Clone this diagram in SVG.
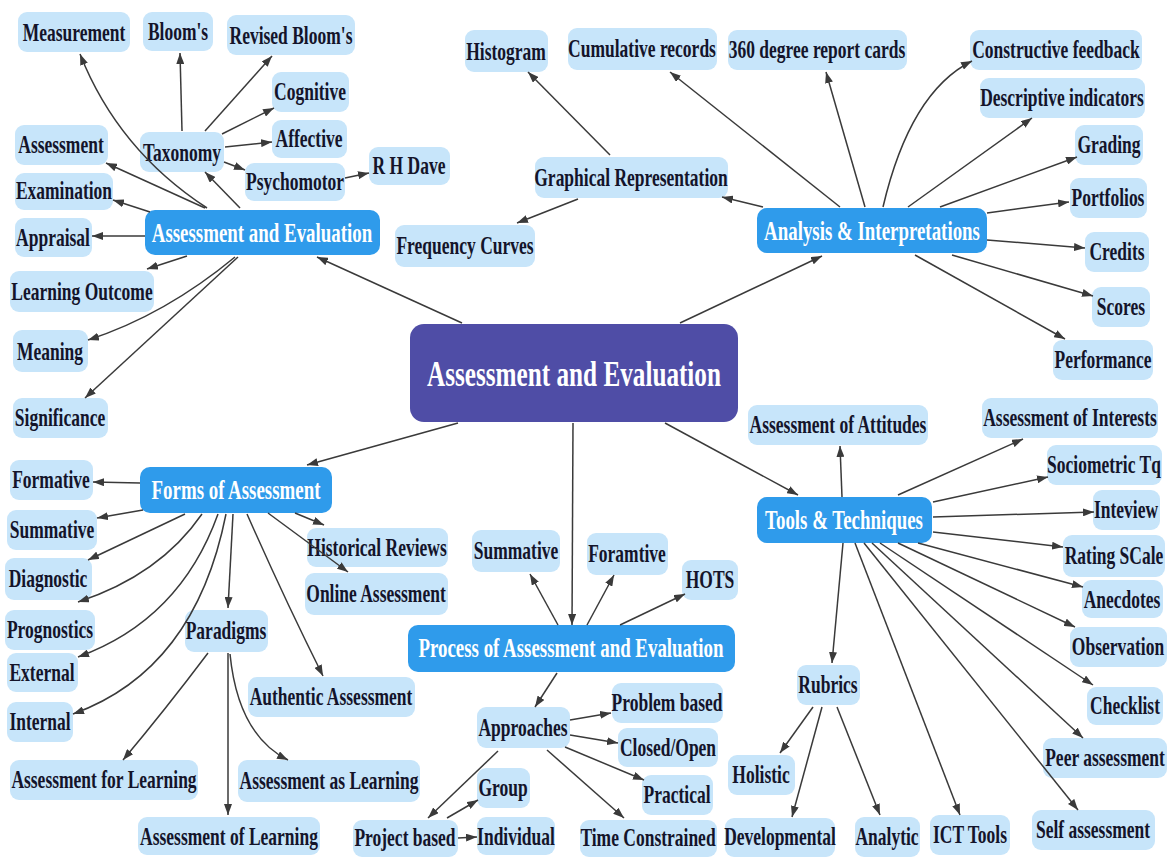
<svg xmlns="http://www.w3.org/2000/svg" width="1170" height="857" viewBox="0 0 1170 857">
<defs>
<marker id="ah" markerWidth="11" markerHeight="8" refX="11" refY="4" orient="auto" markerUnits="userSpaceOnUse"><path d="M0,0 L11,4 L0,8 z" fill="#3a3a3a"/></marker>
<style>
text{font-family:"Liberation Serif","Times New Roman",serif;font-weight:bold;text-anchor:middle}
.leaf rect{fill:#c7e5fa}
.leaf text{font-size:25px;fill:#14142a}
.branch rect{fill:#2f9beb}
.branch text{font-size:27px;fill:#ffffff}
.root rect{fill:#4f4da6}
.root text{font-size:36px;fill:#ffffff}
#connectors path{fill:none;stroke:#3a3a3a;stroke-width:1.5;marker-end:url(#ah)}
</style>
</defs>
<rect width="1170" height="857" fill="#ffffff"/>
<g id="root" class="root"><rect x="410" y="324" width="328" height="98" rx="14"/><text transform="translate(574,386) scale(0.7,1)">Assessment and Evaluation</text></g>
<g id="b-ae" class="branch"><rect x="145" y="210" width="235" height="45" rx="10"/><text transform="translate(262,242) scale(0.7,1)">Assessment and Evaluation</text></g>
<g id="b-analysis" class="branch"><rect x="757" y="208" width="230" height="45" rx="10"/><text transform="translate(872,240) scale(0.7,1)">Analysis &amp; Interpretations</text></g>
<g id="b-forms" class="branch"><rect x="140" y="467" width="192" height="46" rx="10"/><text transform="translate(236,499) scale(0.7,1)">Forms of Assessment</text></g>
<g id="b-tools" class="branch"><rect x="757" y="497" width="175" height="46" rx="10"/><text transform="translate(844,529) scale(0.7,1)">Tools &amp; Techniques</text></g>
<g id="b-process" class="branch"><rect x="408" y="625" width="327" height="47" rx="10"/><text transform="translate(571,657) scale(0.7,1)">Process of Assessment and Evaluation</text></g>
<g id="n-measurement" class="leaf"><rect x="18" y="12" width="112" height="40" rx="9"/><text transform="translate(74,41) scale(0.7,1)">Measurement</text></g>
<g id="n-blooms" class="leaf"><rect x="143" y="12" width="70" height="39" rx="9"/><text transform="translate(178,40) scale(0.7,1)">Bloom's</text></g>
<g id="n-revised" class="leaf"><rect x="227" y="15" width="128" height="40" rx="9"/><text transform="translate(291,44) scale(0.7,1)">Revised Bloom's</text></g>
<g id="n-cognitive" class="leaf"><rect x="272" y="72" width="77" height="40" rx="9"/><text transform="translate(310,100) scale(0.7,1)">Cognitive</text></g>
<g id="n-affective" class="leaf"><rect x="272" y="120" width="75" height="38" rx="9"/><text transform="translate(309,147) scale(0.7,1)">Affective</text></g>
<g id="n-taxonomy" class="leaf"><rect x="140" y="132" width="84" height="40" rx="9"/><text transform="translate(182,161) scale(0.7,1)">Taxonomy</text></g>
<g id="n-psychomotor" class="leaf"><rect x="245" y="163" width="100" height="38" rx="9"/><text transform="translate(295,190) scale(0.7,1)">Psychomotor</text></g>
<g id="n-rhdave" class="leaf"><rect x="369" y="147" width="81" height="38" rx="9"/><text transform="translate(409,174) scale(0.7,1)">R H Dave</text></g>
<g id="n-assessment" class="leaf"><rect x="15" y="125" width="93" height="40" rx="9"/><text transform="translate(61,153) scale(0.7,1)">Assessment</text></g>
<g id="n-examination" class="leaf"><rect x="15" y="173" width="98" height="37" rx="9"/><text transform="translate(64,199) scale(0.7,1)">Examination</text></g>
<g id="n-appraisal" class="leaf"><rect x="15" y="218" width="77" height="39" rx="9"/><text transform="translate(53,246) scale(0.7,1)">Appraisal</text></g>
<g id="n-learning-outcome" class="leaf"><rect x="10" y="271" width="144" height="41" rx="9"/><text transform="translate(82,300) scale(0.7,1)">Learning Outcome</text></g>
<g id="n-meaning" class="leaf"><rect x="13" y="330" width="75" height="42" rx="9"/><text transform="translate(50,360) scale(0.7,1)">Meaning</text></g>
<g id="n-significance" class="leaf"><rect x="13" y="398" width="95" height="40" rx="9"/><text transform="translate(60,426) scale(0.7,1)">Significance</text></g>
<g id="n-histogram" class="leaf"><rect x="465" y="30" width="83" height="42" rx="9"/><text transform="translate(506,60) scale(0.7,1)">Histogram</text></g>
<g id="n-cumulative" class="leaf"><rect x="568" y="28" width="149" height="42" rx="9"/><text transform="translate(642,57) scale(0.7,1)">Cumulative records</text></g>
<g id="n-360" class="leaf"><rect x="728" y="30" width="179" height="40" rx="9"/><text transform="translate(817,58) scale(0.7,1)">360 degree report cards</text></g>
<g id="n-graphical" class="leaf"><rect x="535" y="157" width="193" height="41" rx="9"/><text transform="translate(631,186) scale(0.7,1)">Graphical Representation</text></g>
<g id="n-frequency" class="leaf"><rect x="395" y="225" width="140" height="42" rx="9"/><text transform="translate(465,254) scale(0.7,1)">Frequency Curves</text></g>
<g id="n-constructive" class="leaf"><rect x="970" y="30" width="172" height="40" rx="9"/><text transform="translate(1056,58) scale(0.7,1)">Constructive feedback</text></g>
<g id="n-descriptive" class="leaf"><rect x="980" y="78" width="165" height="40" rx="9"/><text transform="translate(1062,106) scale(0.7,1)">Descriptive indicators</text></g>
<g id="n-grading" class="leaf"><rect x="1075" y="125" width="68" height="40" rx="9"/><text transform="translate(1109,153) scale(0.7,1)">Grading</text></g>
<g id="n-portfolios" class="leaf"><rect x="1070" y="178" width="77" height="40" rx="9"/><text transform="translate(1108,206) scale(0.7,1)">Portfolios</text></g>
<g id="n-credits" class="leaf"><rect x="1085" y="232" width="64" height="40" rx="9"/><text transform="translate(1117,260) scale(0.7,1)">Credits</text></g>
<g id="n-scores" class="leaf"><rect x="1092" y="287" width="58" height="40" rx="9"/><text transform="translate(1121,315) scale(0.7,1)">Scores</text></g>
<g id="n-performance" class="leaf"><rect x="1053" y="340" width="100" height="40" rx="9"/><text transform="translate(1103,368) scale(0.7,1)">Performance</text></g>
<g id="n-attitudes" class="leaf"><rect x="748" y="405" width="180" height="40" rx="9"/><text transform="translate(838,433) scale(0.7,1)">Assessment of Attitudes</text></g>
<g id="n-interests" class="leaf"><rect x="982" y="398" width="176" height="40" rx="9"/><text transform="translate(1070,426) scale(0.7,1)">Assessment of Interests</text></g>
<g id="n-sociometric" class="leaf"><rect x="1047" y="445" width="115" height="40" rx="9"/><text transform="translate(1104,473) scale(0.7,1)">Sociometric Tq</text></g>
<g id="n-inteview" class="leaf"><rect x="1093" y="490" width="67" height="40" rx="9"/><text transform="translate(1126,518) scale(0.7,1)">Inteview</text></g>
<g id="n-rating" class="leaf"><rect x="1063" y="535" width="102" height="42" rx="9"/><text transform="translate(1114,564) scale(0.7,1)">Rating SCale</text></g>
<g id="n-anecdotes" class="leaf"><rect x="1082" y="580" width="81" height="38" rx="9"/><text transform="translate(1122,608) scale(0.7,1)">Anecdotes</text></g>
<g id="n-observation" class="leaf"><rect x="1070" y="627" width="97" height="40" rx="9"/><text transform="translate(1118,655) scale(0.7,1)">Observation</text></g>
<g id="n-checklist" class="leaf"><rect x="1087" y="687" width="76" height="38" rx="9"/><text transform="translate(1125,714) scale(0.7,1)">Checklist</text></g>
<g id="n-peer" class="leaf"><rect x="1043" y="738" width="124" height="40" rx="9"/><text transform="translate(1105,766) scale(0.7,1)">Peer assessment</text></g>
<g id="n-self" class="leaf"><rect x="1032" y="810" width="123" height="40" rx="9"/><text transform="translate(1093,838) scale(0.7,1)">Self assessment</text></g>
<g id="n-rubrics" class="leaf"><rect x="797" y="665" width="63" height="40" rx="9"/><text transform="translate(828,693) scale(0.7,1)">Rubrics</text></g>
<g id="n-holistic" class="leaf"><rect x="728" y="755" width="67" height="40" rx="9"/><text transform="translate(761,783) scale(0.7,1)">Holistic</text></g>
<g id="n-developmental" class="leaf"><rect x="725" y="818" width="110" height="39" rx="9"/><text transform="translate(780,845) scale(0.7,1)">Developmental</text></g>
<g id="n-analytic" class="leaf"><rect x="855" y="817" width="65" height="40" rx="9"/><text transform="translate(887,845) scale(0.7,1)">Analytic</text></g>
<g id="n-ict" class="leaf"><rect x="930" y="815" width="80" height="40" rx="9"/><text transform="translate(970,843) scale(0.7,1)">ICT Tools</text></g>
<g id="n-problem" class="leaf"><rect x="612" y="683" width="111" height="40" rx="9"/><text transform="translate(667,711) scale(0.7,1)">Problem based</text></g>
<g id="n-closed" class="leaf"><rect x="618" y="728" width="100" height="39" rx="9"/><text transform="translate(668,756) scale(0.7,1)">Closed/Open</text></g>
<g id="n-practical" class="leaf"><rect x="642" y="775" width="71" height="40" rx="9"/><text transform="translate(677,803) scale(0.7,1)">Practical</text></g>
<g id="n-approaches" class="leaf"><rect x="477" y="707" width="93" height="41" rx="9"/><text transform="translate(523,736) scale(0.7,1)">Approaches</text></g>
<g id="n-group" class="leaf"><rect x="477" y="768" width="53" height="40" rx="9"/><text transform="translate(503,796) scale(0.7,1)">Group</text></g>
<g id="n-individual" class="leaf"><rect x="477" y="817" width="78" height="38" rx="9"/><text transform="translate(516,845) scale(0.7,1)">Individual</text></g>
<g id="n-project" class="leaf"><rect x="353" y="820" width="105" height="37" rx="9"/><text transform="translate(405,846) scale(0.7,1)">Project based</text></g>
<g id="n-time" class="leaf"><rect x="580" y="820" width="137" height="37" rx="9"/><text transform="translate(648,846) scale(0.7,1)">Time Constrained</text></g>
<g id="n-hots" class="leaf"><rect x="682" y="560" width="56" height="40" rx="9"/><text transform="translate(710,588) scale(0.7,1)">HOTS</text></g>
<g id="n-p-summative" class="leaf"><rect x="472" y="530" width="88" height="42" rx="9"/><text transform="translate(516,559) scale(0.7,1)">Summative</text></g>
<g id="n-p-foramtive" class="leaf"><rect x="587" y="533" width="81" height="42" rx="9"/><text transform="translate(627,562) scale(0.7,1)">Foramtive</text></g>
<g id="n-formative" class="leaf"><rect x="10" y="460" width="83" height="40" rx="9"/><text transform="translate(51,488) scale(0.7,1)">Formative</text></g>
<g id="n-summative" class="leaf"><rect x="7" y="510" width="90" height="40" rx="9"/><text transform="translate(52,538) scale(0.7,1)">Summative</text></g>
<g id="n-diagnostic" class="leaf"><rect x="5" y="558" width="87" height="42" rx="9"/><text transform="translate(48,587) scale(0.7,1)">Diagnostic</text></g>
<g id="n-prognostics" class="leaf"><rect x="5" y="610" width="90" height="40" rx="9"/><text transform="translate(50,638) scale(0.7,1)">Prognostics</text></g>
<g id="n-external" class="leaf"><rect x="7" y="653" width="71" height="39" rx="9"/><text transform="translate(42,681) scale(0.7,1)">External</text></g>
<g id="n-internal" class="leaf"><rect x="7" y="702" width="66" height="40" rx="9"/><text transform="translate(40,730) scale(0.7,1)">Internal</text></g>
<g id="n-for-learning" class="leaf"><rect x="10" y="760" width="188" height="40" rx="9"/><text transform="translate(104,788) scale(0.7,1)">Assessment for Learning</text></g>
<g id="n-paradigms" class="leaf"><rect x="185" y="610" width="83" height="42" rx="9"/><text transform="translate(226,639) scale(0.7,1)">Paradigms</text></g>
<g id="n-as-learning" class="leaf"><rect x="238" y="760" width="182" height="42" rx="9"/><text transform="translate(329,789) scale(0.7,1)">Assessment as Learning</text></g>
<g id="n-of-learning" class="leaf"><rect x="138" y="817" width="182" height="38" rx="9"/><text transform="translate(229,845) scale(0.7,1)">Assessment of Learning</text></g>
<g id="n-authentic" class="leaf"><rect x="248" y="677" width="167" height="40" rx="9"/><text transform="translate(331,705) scale(0.7,1)">Authentic Assessment</text></g>
<g id="n-historical" class="leaf"><rect x="307" y="528" width="141" height="39" rx="9"/><text transform="translate(377,556) scale(0.7,1)">Historical Reviews</text></g>
<g id="n-online" class="leaf"><rect x="305" y="573" width="143" height="42" rx="9"/><text transform="translate(376,602) scale(0.7,1)">Online Assessment</text></g>
<g id="connectors">
<path d="M462,323 L317,257"/>
<path d="M680,323 L822,256"/>
<path d="M458,423 L307,465"/>
<path d="M665,423 L798,495"/>
<path d="M573,423 L572,625"/>
<path d="M207,208 Q118,150 80,54"/>
<path d="M240,208 L205,172"/>
<path d="M205,208 L106,163"/>
<path d="M150,212 L113,200"/>
<path d="M145,236 L92,236"/>
<path d="M187,256 L147,269"/>
<path d="M235,257 Q165,315 88,340"/>
<path d="M238,257 L85,398"/>
<path d="M182,131 L180,53"/>
<path d="M205,131 L272,56"/>
<path d="M222,134 L274,108"/>
<path d="M225,147 L272,142"/>
<path d="M224,162 L245,170"/>
<path d="M345,178 L369,173"/>
<path d="M763,207 L722,197"/>
<path d="M610,155 L528,72"/>
<path d="M578,199 L517,223"/>
<path d="M840,207 L670,72"/>
<path d="M865,207 L826,72"/>
<path d="M883,207 Q910,92 972,61"/>
<path d="M908,207 L1032,118"/>
<path d="M940,207 L1077,157"/>
<path d="M987,213 L1069,202"/>
<path d="M987,240 L1085,248"/>
<path d="M952,255 L1093,296"/>
<path d="M915,255 L1065,339"/>
<path d="M140,483 L93,482"/>
<path d="M143,510 L97,518"/>
<path d="M185,514 L88,560"/>
<path d="M202,514 Q160,575 78,602"/>
<path d="M218,514 Q180,620 78,657"/>
<path d="M226,514 Q195,670 73,714"/>
<path d="M233,514 L228,608"/>
<path d="M247,514 Q285,600 323,676"/>
<path d="M295,513 L324,525"/>
<path d="M268,513 L348,572"/>
<path d="M208,653 Q165,710 123,760"/>
<path d="M228,653 L228,815"/>
<path d="M230,654 Q238,735 288,760"/>
<path d="M558,625 L530,574"/>
<path d="M587,625 L614,575"/>
<path d="M620,625 L685,594"/>
<path d="M557,673 L535,707"/>
<path d="M570,720 L611,713"/>
<path d="M570,735 L618,743"/>
<path d="M565,747 L644,780"/>
<path d="M547,750 L624,818"/>
<path d="M498,751 L428,818"/>
<path d="M447,818 L478,800"/>
<path d="M458,838 L477,837"/>
<path d="M842,497 L840,446"/>
<path d="M898,495 L1023,439"/>
<path d="M933,502 L1048,477"/>
<path d="M933,517 L1094,512"/>
<path d="M933,532 L1063,547"/>
<path d="M918,543 L1083,587"/>
<path d="M898,543 L1075,627"/>
<path d="M880,543 L1093,685"/>
<path d="M872,543 L1083,738"/>
<path d="M864,543 L1078,810"/>
<path d="M855,543 L960,815"/>
<path d="M843,543 L832,663"/>
<path d="M813,707 L780,753"/>
<path d="M822,707 L792,817"/>
<path d="M837,707 L880,815"/>
</g>
</svg>
